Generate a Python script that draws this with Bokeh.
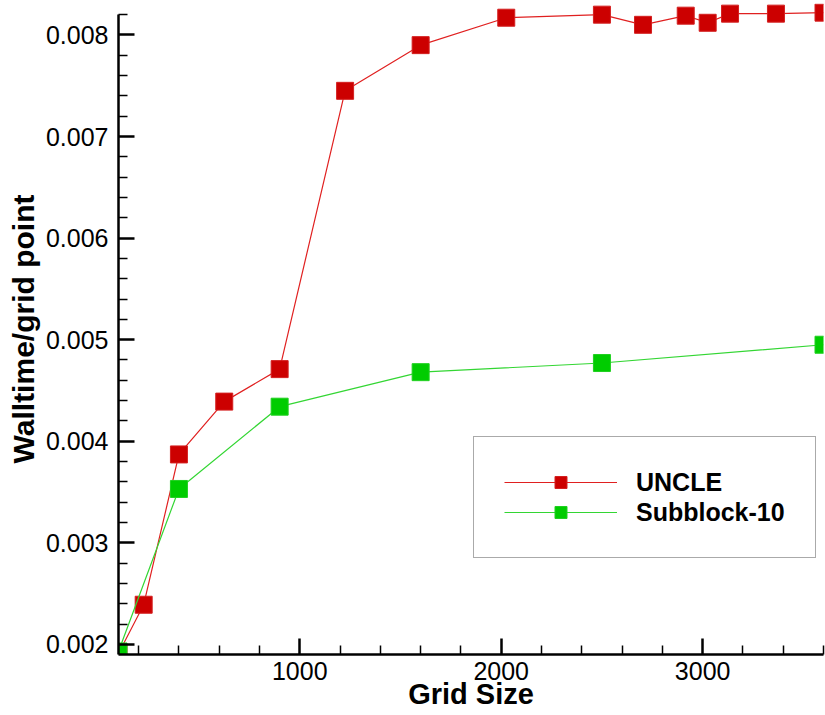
from bokeh.plotting import figure
from bokeh.models import Range1d, FixedTicker, PrintfTickFormatter, Legend, LegendItem
from bokeh.embed import file_html
from bokeh.resources import INLINE

# ---- data ----
uncle_x = [100, 225, 400, 625, 900, 1225, 1600, 2025, 2500, 2704, 2916, 3025, 3136, 3364, 3600]
uncle_y = [0.00191, 0.00239, 0.00387, 0.00439, 0.00471, 0.00745, 0.00790, 0.00817,
           0.00820, 0.00810, 0.00819, 0.00812, 0.00821, 0.00821, 0.00822]
sub_x = [100, 400, 900, 1600, 2500, 3600]
sub_y = [0.00193, 0.00353, 0.00434, 0.00468, 0.00477, 0.00495]

x_ticks = [1000, 2000, 3000]
x_minor = [200, 400, 600, 800, 1200, 1400, 1600, 1800, 2200, 2400, 2600, 2800, 3200, 3400, 3600]
y_ticks = [0.002, 0.003, 0.004, 0.005, 0.006, 0.007, 0.008]
y_minor = [0.0022, 0.0024, 0.0026, 0.0028, 0.0032, 0.0034, 0.0036, 0.0038,
           0.0042, 0.0044, 0.0046, 0.0048, 0.0052, 0.0054, 0.0056, 0.0058,
           0.0062, 0.0064, 0.0066, 0.0068, 0.0072, 0.0074, 0.0076, 0.0078, 0.0082]

FONT = "Liberation Sans"

p = figure(width=825, height=715, output_backend="svg", toolbar_location=None,
           x_range=Range1d(100, 3600), y_range=Range1d(0.0019, 0.00831),
           min_border_left=118, min_border_right=2, min_border_top=3, min_border_bottom=61,
           x_axis_label="Grid Size", y_axis_label="Walltime/grid point")
p.outline_line_color = None
p.grid.visible = False
p.background_fill_color = "white"
p.border_fill_color = "white"

for ax in (p.xaxis[0], p.yaxis[0]):
    ax.axis_line_width = 2.5
    ax.axis_line_color = "black"
    ax.major_tick_in = 16
    ax.major_tick_out = 0
    ax.minor_tick_in = 9
    ax.minor_tick_out = 0
    ax.major_tick_line_width = 2.5
    ax.minor_tick_line_width = 1.5
    ax.major_tick_line_color = "black"
    ax.minor_tick_line_color = "black"
    ax.major_label_text_font = FONT
    ax.major_label_text_font_size = "25px"
    ax.major_label_text_color = "black"
    ax.axis_label_text_font = FONT
    ax.axis_label_text_font_style = "bold"
    ax.axis_label_text_color = "black"

p.xaxis[0].axis_label_text_font_size = "29px"
p.yaxis[0].axis_label_text_font_size = "30px"

p.xaxis[0].ticker = FixedTicker(ticks=x_ticks, minor_ticks=x_minor)
p.xaxis[0].major_label_standoff = 7
p.xaxis[0].axis_label_standoff = -5
p.yaxis[0].ticker = FixedTicker(ticks=y_ticks, minor_ticks=y_minor)
p.yaxis[0].formatter = PrintfTickFormatter(format="%.3f")
p.yaxis[0].major_label_standoff = 10
p.yaxis[0].axis_label_standoff = 3
p.yaxis[0].bounds = (0.0019, 0.0082)

r_line = p.line(uncle_x, uncle_y, line_color="#E02020", line_width=1.2)
r_mark = p.scatter(uncle_x, uncle_y, marker="square", size=17,
                   fill_color="#CC0000", line_color="#D42020", line_width=1)
g_line = p.line(sub_x, sub_y, line_color="#33D633", line_width=1.2)
g_mark = p.scatter(sub_x, sub_y, marker="square", size=17,
                   fill_color="#00CC00", line_color="#20D020", line_width=1)

legend = Legend(items=[LegendItem(label="UNCLE", renderers=[r_line, r_mark]),
                       LegendItem(label="Subblock-10", renderers=[g_line, g_mark])],
                location=(355, 96), orientation="vertical",
                glyph_width=113, glyph_height=30, label_height=30, spacing=0,
                label_standoff=19, padding=30, margin=0,
                label_text_font=FONT, label_text_font_style="bold",
                label_text_font_size="25px", label_text_color="black",
                border_line_color="#555555", border_line_width=1,
                background_fill_color="white", background_fill_alpha=1)
p.add_layout(legend, "center")

open("out.html", "w").write(file_html(p, INLINE))
